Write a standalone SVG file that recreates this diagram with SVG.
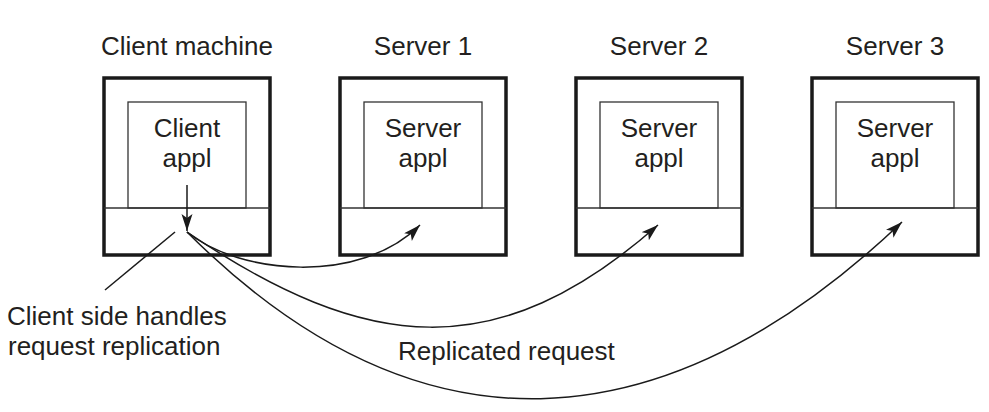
<svg xmlns="http://www.w3.org/2000/svg" width="989" height="412" viewBox="0 0 989 412">
<style>
  .outer{fill:none;stroke:#1a1a1a;stroke-width:3.5}
  .inner{fill:none;stroke:#333;stroke-width:1.3}
  .t{font-family:"Liberation Sans",Arial,sans-serif;font-size:26px;fill:#231f20}
  .c{text-anchor:middle}
  .conn{fill:none;stroke:#1a1a1a;stroke-width:1.5}
</style>
<defs>
  <marker id="ah" markerUnits="userSpaceOnUse" markerWidth="18" markerHeight="12" refX="17" refY="5.5" orient="auto">
    <path d="M0,0 L17,5.5 L0,11 L4,5.5 z" fill="#1a1a1a"/>
  </marker>
</defs>
<rect width="989" height="412" fill="#fff"/>
<g id="client">
  <text class="t c" x="187" y="55">Client machine</text>
  <rect class="outer" x="104" y="78" width="166" height="177"/>
  <line class="inner" x1="104" y1="208" x2="270" y2="208"/>
  <rect class="inner" x="128" y="102" width="118" height="106"/>
  <text class="t c" x="187" y="137">Client</text>
  <text class="t c" x="187" y="167">appl</text>
</g>
<g id="server1">
  <text class="t c" x="423" y="55">Server 1</text>
  <rect class="outer" x="340" y="78" width="166" height="177"/>
  <line class="inner" x1="340" y1="208" x2="506" y2="208"/>
  <rect class="inner" x="364" y="102" width="118" height="106"/>
  <text class="t c" x="423" y="137">Server</text>
  <text class="t c" x="423" y="167">appl</text>
</g>
<g id="server2">
  <text class="t c" x="659" y="55">Server 2</text>
  <rect class="outer" x="576" y="78" width="166" height="177"/>
  <line class="inner" x1="576" y1="208" x2="742" y2="208"/>
  <rect class="inner" x="600" y="102" width="118" height="106"/>
  <text class="t c" x="659" y="137">Server</text>
  <text class="t c" x="659" y="167">appl</text>
</g>
<g id="server3">
  <text class="t c" x="895" y="55">Server 3</text>
  <rect class="outer" x="812" y="78" width="166" height="177"/>
  <line class="inner" x1="812" y1="208" x2="978" y2="208"/>
  <rect class="inner" x="836" y="102" width="118" height="106"/>
  <text class="t c" x="895" y="137">Server</text>
  <text class="t c" x="895" y="167">appl</text>
</g>
<g id="labels">
  <text class="t" x="7" y="325">Client side handles</text>
  <text class="t" x="8" y="355">request replication</text>
  <text class="t" x="398" y="360">Replicated request</text>
</g>
<g id="connectors">
  <line class="conn" x1="187" y1="185" x2="187" y2="231" marker-end="url(#ah)"/>
  <line class="conn" x1="175" y1="232" x2="105" y2="290"/>
  <path class="conn" d="M187,232 C240,275 360,285 420,225" marker-end="url(#ah)"/>
  <path class="conn" d="M187,232 C367,354 498,366 658,225" marker-end="url(#ah)"/>
  <path class="conn" d="M187,232 C417,462 662,450 902,222" marker-end="url(#ah)"/>
</g>
</svg>
